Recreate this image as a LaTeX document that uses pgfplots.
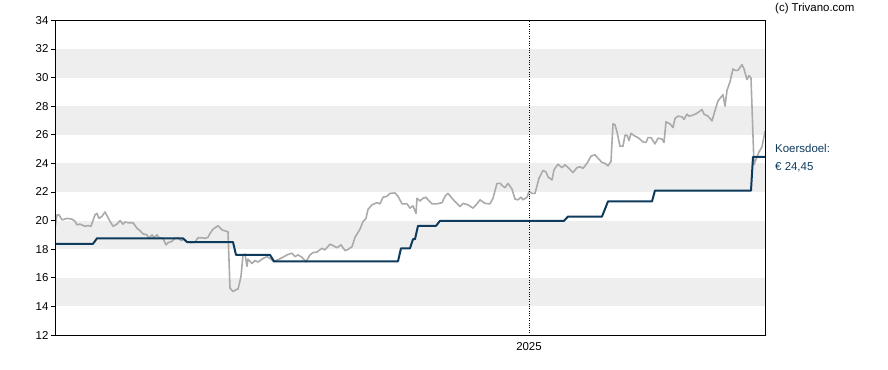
\documentclass[border=0pt]{standalone}
\usepackage{fontspec}
\setmainfont{Liberation Sans}
\usepackage{pgfplots}
\pgfplotsset{compat=1.18}
\definecolor{navy}{HTML}{0E3A5C}
\definecolor{pricegray}{HTML}{AAAAAA}
\definecolor{band}{HTML}{EEEEEE}
\begin{document}
\begin{tikzpicture}[x=1bp,y=1bp]
\useasboundingbox (-55bp,-35bp) rectangle (833bp,335bp);
\begin{axis}[
  at={(0,0)}, anchor=south west,
  scale only axis, width=710bp, height=314.7bp,
  xmin=55, xmax=765, ymin=12, ymax=34,
  ytick={12,14,...,34},
  xtick={529}, xticklabels={2025},
  xmajorgrids, major grid style={black, dotted, line width=0.8pt},
  ytick pos=left, xtick pos=bottom,
  tick align=outside,
  major tick length=4bp,
  x tick style={draw=none},
  y tick style={black, line width=0.8pt},
  axis line style={black, line width=0.8pt},
  tick label style={font=\fontsize{11.5}{13}\selectfont},
  yticklabel style={xshift=1bp},
  /pgf/number format/assume math mode=true,
  axis on top,
  clip=true,
]
\foreach \lo in {14,18,22,26,30} {
  \edef\temp{\noexpand\fill[band] (axis cs:55,\lo) rectangle (axis cs:765,\lo+2);}
  \temp
}
\addplot[pricegray, line width=1.6pt, line join=round] coordinates {
(55,19.46)(57,20.4)(59,20.4)(62,20.05)(67,20.15)(72,20.1)(75,19.95)(77,19.7)(80,19.75)(85,19.6)(88,19.65)(91,19.6)
(95,20.4)(97,20.5)(99,20.15)(102,20.3)(105,20.6)(110,19.95)(113,19.6)(117,19.75)(120,20.0)(123,19.75)(125,19.9)
(128,19.85)(133,19.85)(137,19.46)(140,19.3)(143,19.07)(147,19.0)(149,18.76)(152,19.0)(154,18.8)(157,19.0)(159,18.8)
(163,18.76)(166,18.3)(168,18.45)(172,18.55)(175,18.76)(178,18.8)(181,18.6)(184,18.7)(187,18.5)(192,18.45)(195,18.5)
(198,18.8)(202,18.8)(205,18.76)(208,18.83)(210,19.1)(213,19.4)(218,19.63)(222,19.35)(227,19.23)(228,19.23)
(230,15.27)(233,15.04)(237,15.2)(238,15.2)(241,16.1)(243,17.6)(245,17.65)(247,16.8)(248,17.3)(252,17.0)(255,17.2)
(258,17.1)(263,17.35)(267,17.48)(270,17.35)(274,17.12)(277,17.23)(282,17.4)(287,17.6)(292,17.72)(295,17.48)(298,17.6)
(302,17.43)(306,17.12)(310,17.6)(313,17.76)(317,17.8)(322,18.06)(325,17.95)(330,18.35)(333,18.25)(337,18.1)(341,18.3)
(345,17.9)(348,17.98)(352,18.17)(355,18.83)(360,19.4)(363,19.93)(366,20.15)(368,20.78)(372,21.1)(377,21.25)(380,21.17)
(383,21.63)(387,21.7)(390,21.9)(395,21.93)(398,21.7)(402,21.17)(407,21.17)(410,20.87)(413,21.03)(416,20.5)(417,21.56)
(420,21.37)(423,21.56)(426,21.63)(428,21.45)(432,21.17)(437,21.17)(442,21.25)(445,21.7)(448,21.9)(452,21.56)(455,21.33)
(460,20.98)(463,21.2)(468,21.1)(473,20.87)(477,21.17)(480,21.45)(485,21.2)(490,21.17)(493,21.56)(497,22.6)(500,22.6)
(503,22.4)(505,22.3)(508,22.6)(512,22.2)(515,21.5)(518,21.45)(521,21.63)(523,21.45)(527,21.63)(529,22.03)(532,21.9)
(535,21.9)(539,22.96)(543,23.5)(546,23.4)(548,23.06)(552,22.84)(554,23.55)(558,23.94)(562,23.7)(565,23.9)(569,23.65)
(573,23.35)(577,23.7)(580,23.76)(583,23.65)(587,24.0)(591,24.5)(595,24.6)(598,24.36)(602,24.06)(605,24.0)(608,23.83)
(611,24.13)(613,26.76)(615,26.7)(617,26.2)(620,25.2)(623,25.2)(625,25.97)(627,25.97)(629,25.6)(631,26.1)(635,25.9)
(638,25.8)(643,25.5)(646,25.46)(648,25.8)(651,25.8)(655,25.36)(658,25.76)(662,25.7)(664,25.46)(666,26.9)(670,26.76)
(673,26.5)(675,27.14)(678,27.3)(682,27.25)(684,27.07)(687,27.44)(689,27.3)(693,27.37)(697,27.5)(702,27.76)(704,27.44)
(708,27.3)(712,26.97)(715,27.7)(718,28.37)(723,28.8)(725,28.0)(727,29.1)(730,29.7)(733,30.6)(735,30.5)(738,30.5)
(742,30.9)(744,30.6)(747,29.86)(749,30.13)(751,29.97)(754,23.9)(757,24.45)(759,24.8)(762,25.15)(765,26.25)
};
\addplot[navy, line width=2pt, line join=round] coordinates {
(55,18.37)(93,18.37)(97,18.76)(183,18.76)(187,18.5)(233,18.5)(236,17.6)(270,17.6)(274,17.15)(398,17.15)(401,18.06)
(410,18.06)(413,18.7)(415,18.7)(418,19.63)(436,19.63)(440,19.98)(564,19.98)(568,20.28)(602,20.28)(608,21.34)
(652,21.34)(655,22.1)(751,22.1)(753,24.45)(765,24.45)
};
\end{axis}
\node[anchor=west, inner sep=0pt, font=\fontsize{11.5}{13}\selectfont] at (720bp,326bp) {(c) Trivano.com};
\node[anchor=west, inner sep=0pt, font=\fontsize{11.5}{13}\selectfont, text=navy] at (720bp,187bp) {Koersdoel:};
\node[anchor=west, inner sep=0pt, font=\fontsize{11.5}{13}\selectfont, text=navy] at (720bp,168bp) {€ 24,45};
\end{tikzpicture}
\end{document}
